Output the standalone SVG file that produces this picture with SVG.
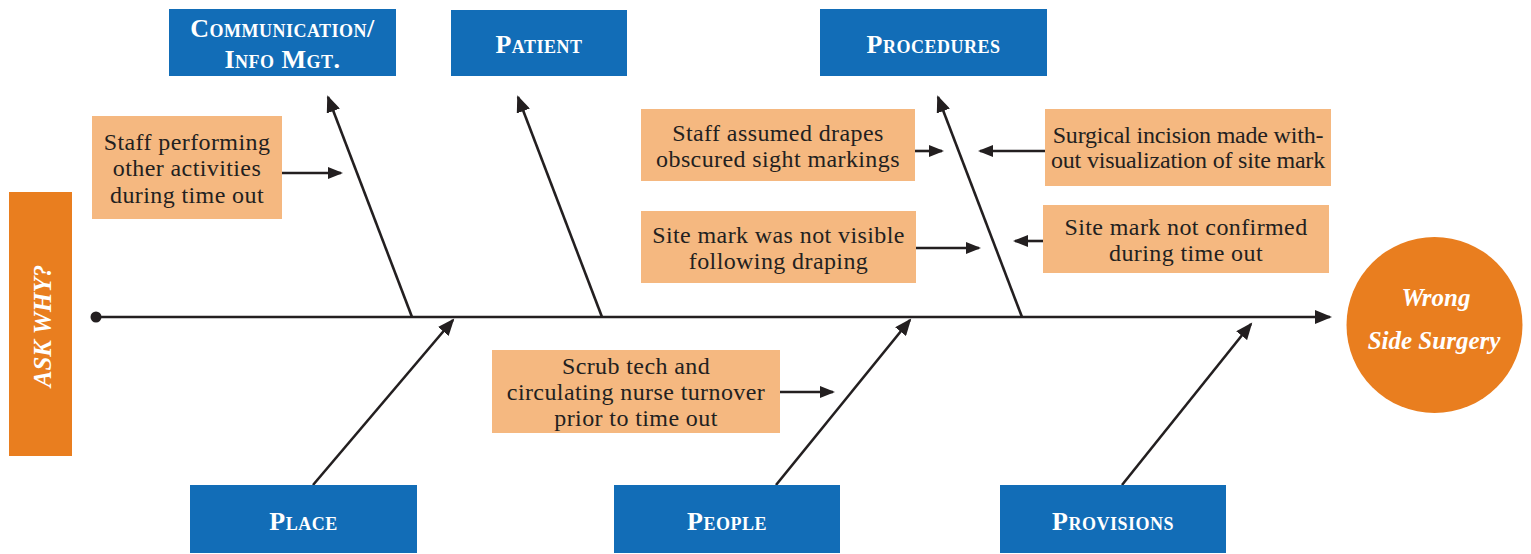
<svg xmlns="http://www.w3.org/2000/svg" width="1531" height="554" viewBox="0 0 1531 554">
  <defs>
    <marker id="ah" markerUnits="userSpaceOnUse" markerWidth="18" markerHeight="14" viewBox="0 0 18 14" refX="15" refY="7" orient="auto">
      <path d="M0,0 L17,7 L0,14 z" fill="#231f20"/>
    </marker>
    <marker id="ahs" markerUnits="userSpaceOnUse" markerWidth="16" markerHeight="12" viewBox="0 0 16 12" refX="13" refY="6" orient="auto">
      <path d="M0,0 L15,6 L0,12 z" fill="#231f20"/>
    </marker>
  </defs>
  <style>
    .cat { fill: #126db7; }
    .cat-t { font-family: "Liberation Serif", "Times New Roman", serif; font-size: 26px; font-weight: bold; font-variant: small-caps; fill: #ffffff; text-anchor: middle; letter-spacing: 0.5px; }
    .cause { fill: #f5b880; }
    .cause-t { font-family: "Liberation Serif", "Times New Roman", serif; font-size: 24px; fill: #231f20; text-anchor: middle; letter-spacing: 0.4px; }
    .bone { stroke: #231f20; stroke-width: 2.6; fill: none; marker-end: url(#ah); }
    .sub { stroke: #231f20; stroke-width: 2.6; fill: none; marker-end: url(#ahs); }
    .white-i { font-family: "Liberation Serif", "Times New Roman", serif; font-style: italic; font-weight: bold; fill: #ffffff; text-anchor: middle; }
  </style>

  <g id="ask-why">
    <rect x="9" y="192" width="63" height="264" fill="#e97e1f"/>
    <text class="white-i" font-size="25" transform="translate(51,326) rotate(-90)" x="0" y="0">ASK WHY?</text>
  </g>

  <g id="connectors">
    <circle cx="96" cy="317" r="5.5" fill="#231f20"/>
    <line class="bone" x1="96" y1="317" x2="1330" y2="317"/>
    <line class="bone" x1="412" y1="317" x2="328" y2="97"/>
    <line class="bone" x1="602" y1="317" x2="518" y2="97"/>
    <line class="bone" x1="1022" y1="317" x2="938" y2="97"/>
    <line class="bone" x1="313" y1="485" x2="453" y2="320"/>
    <line class="bone" x1="776" y1="485" x2="910" y2="320"/>
    <line class="bone" x1="1122" y1="485" x2="1251" y2="324"/>
    <line class="sub" x1="282" y1="173" x2="341" y2="173"/>
    <line class="sub" x1="915" y1="151" x2="942" y2="151"/>
    <line class="sub" x1="1045" y1="151" x2="980" y2="151"/>
    <line class="sub" x1="916" y1="248" x2="979" y2="248"/>
    <line class="sub" x1="1043" y1="241" x2="1015" y2="241"/>
    <line class="sub" x1="780" y1="392" x2="833" y2="392"/>
  </g>

  <g id="communication">
    <rect class="cat" x="169" y="9" width="227" height="67"/>
    <text class="cat-t" x="282.5" y="37">Communication/</text>
    <text class="cat-t" x="282.5" y="68">Info Mgt.</text>
  </g>
  <g id="patient">
    <rect class="cat" x="451" y="10" width="176" height="66"/>
    <text class="cat-t" x="539" y="53">Patient</text>
  </g>
  <g id="procedures">
    <rect class="cat" x="820" y="9" width="227" height="67"/>
    <text class="cat-t" x="933.5" y="53">Procedures</text>
  </g>
  <g id="place">
    <rect class="cat" x="190" y="485" width="227" height="68"/>
    <text class="cat-t" x="303.5" y="530">Place</text>
  </g>
  <g id="people">
    <rect class="cat" x="614" y="485" width="226" height="68"/>
    <text class="cat-t" x="727" y="530">People</text>
  </g>
  <g id="provisions">
    <rect class="cat" x="1000" y="485" width="226" height="68"/>
    <text class="cat-t" x="1113" y="530">Provisions</text>
  </g>

  <g id="staff-performing">
    <rect class="cause" x="92" y="116" width="190" height="103"/>
    <text class="cause-t" x="187" y="150">Staff performing</text>
    <text class="cause-t" x="187" y="176">other activities</text>
    <text class="cause-t" x="187" y="203">during time out</text>
  </g>
  <g id="staff-assumed">
    <rect class="cause" x="641" y="109" width="274" height="72"/>
    <text class="cause-t" x="778" y="141">Staff assumed drapes</text>
    <text class="cause-t" x="778" y="167">obscured sight markings</text>
  </g>
  <g id="surgical-incision">
    <rect class="cause" x="1045" y="109" width="286" height="77"/>
    <text class="cause-t" x="1188" y="143" style="letter-spacing:-0.2px">Surgical incision made with-</text>
    <text class="cause-t" x="1188" y="168" style="letter-spacing:-0.2px">out visualization of site mark</text>
  </g>
  <g id="site-mark-visible">
    <rect class="cause" x="641" y="211" width="275" height="72"/>
    <text class="cause-t" x="778.5" y="243">Site mark was not visible</text>
    <text class="cause-t" x="778.5" y="269">following draping</text>
  </g>
  <g id="site-mark-confirmed">
    <rect class="cause" x="1043" y="205" width="286" height="68"/>
    <text class="cause-t" x="1186" y="235">Site mark not confirmed</text>
    <text class="cause-t" x="1186" y="261">during time out</text>
  </g>
  <g id="scrub-tech">
    <rect class="cause" x="492" y="350" width="288" height="83"/>
    <text class="cause-t" x="636" y="374">Scrub tech and</text>
    <text class="cause-t" x="636" y="400">circulating nurse turnover</text>
    <text class="cause-t" x="636" y="426">prior to time out</text>
  </g>

  <g id="wrong-side-surgery">
    <circle cx="1434.5" cy="325" r="88" fill="#e97e1f"/>
    <text class="white-i" font-size="25" x="1436" y="306">Wrong</text>
    <text class="white-i" font-size="25" x="1434" y="349">Side Surgery</text>
  </g>
</svg>
